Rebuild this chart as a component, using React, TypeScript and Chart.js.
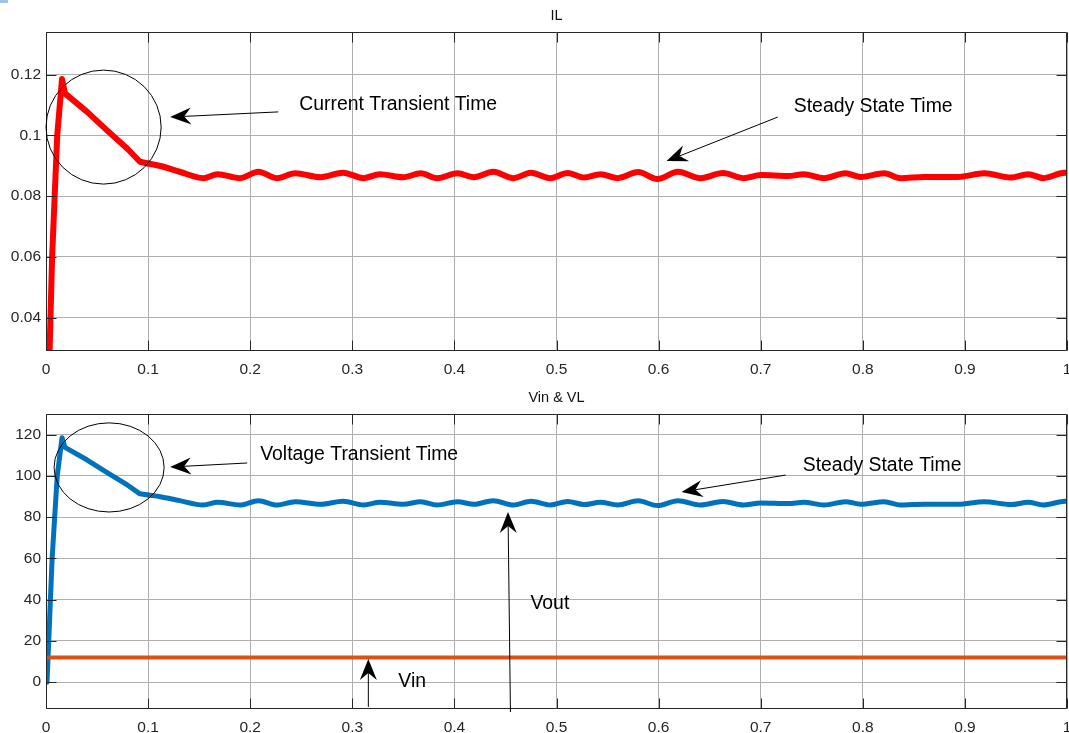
import React, { useEffect, useRef } from "react";
import { Chart, registerables } from "chart.js";
Chart.register(...registerables);

// ---- data ----
// transient part (sharp rise and near-straight decay)
const transientTimes = [0.001, 0.0035, 0.006, 0.011, 0.0157, 0.0186, 0.04, 0.0595, 0.08, 0.092, 0.1];
const transientIL = [0, 0.029, 0.06, 0.1, 0.1185, 0.1138, 0.1078, 0.1017, 0.0955, 0.0913, 0.0907];
const transientVout = [0, 30, 60, 100, 118.5, 113.8, 107.8, 101.7, 95.5, 91.3, 90.7];
// steady-state part (small ripple)
const steadyTimes = [
  0.1, 0.112, 0.131,
  0.154, 0.168, 0.19, 0.208, 0.226, 0.244, 0.269, 0.291, 0.311, 0.327, 0.35, 0.367, 0.383,
  0.403, 0.419, 0.438, 0.458, 0.475, 0.494, 0.511, 0.527, 0.543, 0.56, 0.58, 0.599, 0.619,
  0.641, 0.663, 0.683, 0.7, 0.727, 0.742, 0.762, 0.783, 0.798, 0.821, 0.837, 0.86, 0.893,
  0.919, 0.945, 0.962, 0.977, 0.994, 1.0,
];
const steadyIL = [
  0.0907, 0.0899, 0.088,
  0.0859, 0.0872, 0.0859, 0.088, 0.0859, 0.0875, 0.0862, 0.0877, 0.0859, 0.0872, 0.0862, 0.0875, 0.0859,
  0.0875, 0.0862, 0.088, 0.0859, 0.0877, 0.0859, 0.0876, 0.0861, 0.0872, 0.0859, 0.0879, 0.0856, 0.088,
  0.0859, 0.0876, 0.0859, 0.0869, 0.0866, 0.0872, 0.0859, 0.0875, 0.0863, 0.0875, 0.0859, 0.0863, 0.0863,
  0.0875, 0.0861, 0.0872, 0.0859, 0.0875, 0.0877,
];
const steadyVout = [
  90.7, 89.9, 88.0,
  85.9, 87.2, 85.9, 88.0, 85.9, 87.5, 86.2, 87.7, 85.9, 87.2, 86.2, 87.5, 85.9,
  87.5, 86.2, 88.0, 85.9, 87.7, 85.9, 87.6, 86.1, 87.2, 85.9, 87.9, 85.6, 88.0,
  85.9, 87.6, 85.9, 86.9, 86.6, 87.2, 85.9, 87.5, 86.3, 87.5, 85.9, 86.3, 86.3,
  87.5, 86.1, 87.2, 85.9, 87.5, 87.7,
];
const vinTimes = [0, 1];
const vinValues = [12, 12];

const xTicks = [0, 0.1, 0.2, 0.3, 0.4, 0.5, 0.6, 0.7, 0.8, 0.9, 1];
const xTickLabels = ["0", "0.1", "0.2", "0.3", "0.4", "0.5", "0.6", "0.7", "0.8", "0.9", "1"];
const ilTicks = [0.04, 0.06, 0.08, 0.1, 0.12];
const ilTickLabels = ["0.04", "0.06", "0.08", "0.1", "0.12"];
const vTicks = [0, 20, 40, 60, 80, 100, 120];
const vTickLabels = ["0", "20", "40", "60", "80", "100", "120"];
const ilRange = [0.029, 0.134];
const vRange = [-13, 130];

// annotations in data coordinates
const ilEllipses = [{ cx: 0.0564, cy: 0.1027, rx: 0.0564, ry: 0.01876 }];
const ilArrows = [
  { x1: 0.2275, y1: 0.1077, x2: 0.1216, y2: 0.106 },
  { x1: 0.7167, y1: 0.106, x2: 0.6078, y2: 0.0915 },
];
const ilTexts = [
  { x: 0.248, y: 0.11, text: "Current Transient Time" },
  { x: 0.7324, y: 0.1093, text: "Steady State Time" },
];
const vEllipses = [{ cx: 0.0618, cy: 104.1, rx: 0.0539, ry: 21.6 }];
const vArrows = [
  { x1: 0.197, y1: 106.25, x2: 0.1216, y2: 104.3 },
  { x1: 0.7245, y1: 100.4, x2: 0.6225, y2: 92.2 },
  { x1: 0.4549, y1: -14.45, x2: 0.4525, y2: 82.5 },
  { x1: 0.3157, y1: -12.0, x2: 0.3157, y2: 11.2 },
];
const vTexts = [
  { x: 0.2098, y: 110.1, text: "Voltage Transient Time" },
  { x: 0.7412, y: 104.8, text: "Steady State Time" },
  { x: 0.4745, y: 37.9, text: "Vout" },
  { x: 0.3451, y: 0.1, text: "Vin" },
];

const FONT = '"Liberation Sans", Arial, Helvetica, sans-serif';
const AXIS_COLOR = "#262626";
const GRID_COLOR = "#b0b0b0";

function drawArrow(ctx: CanvasRenderingContext2D, x1: number, y1: number, x2: number, y2: number) {
  const L = 21, W = 8.5, N = 14;
  const ang = Math.atan2(y2 - y1, x2 - x1);
  const ux = Math.cos(ang), uy = Math.sin(ang);
  const px = -uy, py = ux;
  ctx.beginPath();
  ctx.moveTo(x1, y1);
  ctx.lineTo(x2 - ux * N, y2 - uy * N);
  ctx.strokeStyle = "#000";
  ctx.lineWidth = 1;
  ctx.stroke();
  ctx.beginPath();
  ctx.moveTo(x2, y2);
  ctx.lineTo(x2 - ux * L + px * W, y2 - uy * L + py * W);
  ctx.lineTo(x2 - ux * N, y2 - uy * N);
  ctx.lineTo(x2 - ux * L - px * W, y2 - uy * L - py * W);
  ctx.closePath();
  ctx.fillStyle = "#000";
  ctx.fill();
}

function makeDecor(title: string, xT: number[], yT: number[], ellipses: any[], arrows: any[], texts: any[]) {
  return {
    id: "decor",
    afterDraw(chart: any) {
      const { ctx, chartArea: a, scales } = chart;
      const xs = scales.x, ys = scales.y;
      ctx.save();
      const L = Math.round(a.left) + 0.5, R = Math.round(a.right) - 0.5;
      const T = Math.round(a.top) + 0.5, B = Math.round(a.bottom) - 0.5;
      ctx.strokeStyle = AXIS_COLOR;
      ctx.lineWidth = 1;
      ctx.beginPath();
      ctx.rect(L, T, R - L, B - T);
      ctx.stroke();
      ctx.beginPath();
      const tl = 10;
      xT.forEach((v) => {
        const p = Math.round(xs.getPixelForValue(v)) + 0.5;
        ctx.moveTo(p, B); ctx.lineTo(p, B - tl);
        ctx.moveTo(p, T); ctx.lineTo(p, T + tl);
      });
      yT.forEach((v) => {
        const p = Math.round(ys.getPixelForValue(v)) + 0.5;
        ctx.moveTo(L, p); ctx.lineTo(L + tl, p);
        ctx.moveTo(R, p); ctx.lineTo(R - tl, p);
      });
      ctx.stroke();
      ctx.fillStyle = "#111";
      ctx.font = `14.5px ${FONT}`;
      ctx.textAlign = "center";
      ctx.textBaseline = "middle";
      ctx.fillText(title, (a.left + a.right) / 2, a.top - 16);
      ctx.strokeStyle = "#000";
      ctx.lineWidth = 1;
      ellipses.forEach((e) => {
        const cx = xs.getPixelForValue(e.cx), cy = ys.getPixelForValue(e.cy);
        const rx = Math.abs(xs.getPixelForValue(e.cx + e.rx) - cx);
        const ry = Math.abs(ys.getPixelForValue(e.cy + e.ry) - cy);
        ctx.beginPath();
        ctx.ellipse(cx, cy, rx, ry, 0, 0, Math.PI * 2);
        ctx.stroke();
      });
      arrows.forEach((ar) => {
        drawArrow(ctx, xs.getPixelForValue(ar.x1), ys.getPixelForValue(ar.y1), xs.getPixelForValue(ar.x2), ys.getPixelForValue(ar.y2));
      });
      ctx.fillStyle = "#000";
      ctx.font = `19.4px ${FONT}`;
      ctx.textAlign = "left";
      ctx.textBaseline = "middle";
      texts.forEach((t) => {
        ctx.fillText(t.text, xs.getPixelForValue(t.x), ys.getPixelForValue(t.y));
      });
      ctx.restore();
    },
  };
}

function baseScales(yTicks: number[], yLabels: string[], yMin: number, yMax: number) {
  return {
    x: {
      type: "linear",
      min: 0,
      max: 1,
      afterBuildTicks: (s: any) => { s.ticks = xTicks.map((v) => ({ value: v })); },
      afterFit: (s: any) => { s.height = 24; s.paddingLeft = 0; s.paddingRight = 0; },
      ticks: {
        callback: (v: number) => xTickLabels[xTicks.indexOf(v)] ?? "",
        font: { family: FONT, size: 15.5 },
        color: AXIS_COLOR,
        padding: 9,
        maxRotation: 0,
        autoSkip: false,
      },
      grid: { color: GRID_COLOR, drawTicks: false, lineWidth: 1 },
      border: { display: false },
    },
    y: {
      type: "linear",
      min: yMin,
      max: yMax,
      afterBuildTicks: (s: any) => { s.ticks = yTicks.map((v) => ({ value: v })); },
      afterFit: (s: any) => { s.width = 46; s.paddingTop = 0; s.paddingBottom = 0; },
      ticks: {
        callback: (v: number) => yLabels[yTicks.indexOf(v)] ?? "",
        font: { family: FONT, size: 15.5 },
        color: AXIS_COLOR,
        padding: 5,
        autoSkip: false,
      },
      grid: { color: GRID_COLOR, drawTicks: false, lineWidth: 1 },
      border: { display: false },
    },
  };
}

function lineSet(times: number[], values: number[], color: string, width: number, smooth: boolean) {
  return {
    data: times.map((t, i) => ({ x: t, y: values[i] })),
    borderColor: color,
    borderWidth: width,
    pointRadius: 0,
    tension: 0,
    cubicInterpolationMode: smooth ? "monotone" : "default",
    borderJoinStyle: "round",
    borderCapStyle: "round",
    fill: false,
  };
}

export default function App() {
  const topRef = useRef<HTMLCanvasElement>(null);
  const botRef = useRef<HTMLCanvasElement>(null);

  useEffect(() => {
    const top = new Chart(topRef.current as HTMLCanvasElement, {
      type: "line",
      data: {
        datasets: [
          lineSet(transientTimes, transientIL, "#ff0000", 6, false),
          lineSet(steadyTimes, steadyIL, "#ff0000", 6, true),
        ],
      },
      options: {
        responsive: false,
        animation: false,
        devicePixelRatio: 1,
        layout: { padding: { top: 32, right: 2, left: 0, bottom: 0 } },
        plugins: { legend: { display: false }, tooltip: { enabled: false }, title: { display: false } },
        scales: baseScales(ilTicks, ilTickLabels, ilRange[0], ilRange[1]) as any,
      },
      plugins: [makeDecor("IL", xTicks, ilTicks, ilEllipses, ilArrows, ilTexts)],
    } as any);

    const bot = new Chart(botRef.current as HTMLCanvasElement, {
      type: "line",
      data: {
        datasets: [
          lineSet(vinTimes, vinValues, "#D95319", 4, false),
          lineSet(transientTimes, transientVout, "#0072BD", 5, false),
          lineSet(steadyTimes, steadyVout, "#0072BD", 5, true),
        ],
      },
      options: {
        responsive: false,
        animation: false,
        devicePixelRatio: 1,
        layout: { padding: { top: 39, right: 2, left: 0, bottom: 0 } },
        plugins: { legend: { display: false }, tooltip: { enabled: false }, title: { display: false } },
        scales: baseScales(vTicks, vTickLabels, vRange[0], vRange[1]) as any,
      },
      plugins: [makeDecor("Vin & VL", xTicks, vTicks, vEllipses, vArrows, vTexts)],
    } as any);

    return () => {
      top.destroy();
      bot.destroy();
    };
  }, []);

  return (
    <div style={{ position: "absolute", left: 0, top: 0, width: 1069, height: 733, background: "#fff", overflow: "hidden" }}>
      <div style={{ position: "absolute", left: 0, top: 0, width: 8, height: 3, background: "#9ec3e6" }} />
      <canvas ref={topRef} width={1069} height={375} style={{ position: "absolute", left: 0, top: 0, width: 1069, height: 375 }} />
      <canvas ref={botRef} width={1069} height={358} style={{ position: "absolute", left: 0, top: 375, width: 1069, height: 358 }} />
    </div>
  );
}
